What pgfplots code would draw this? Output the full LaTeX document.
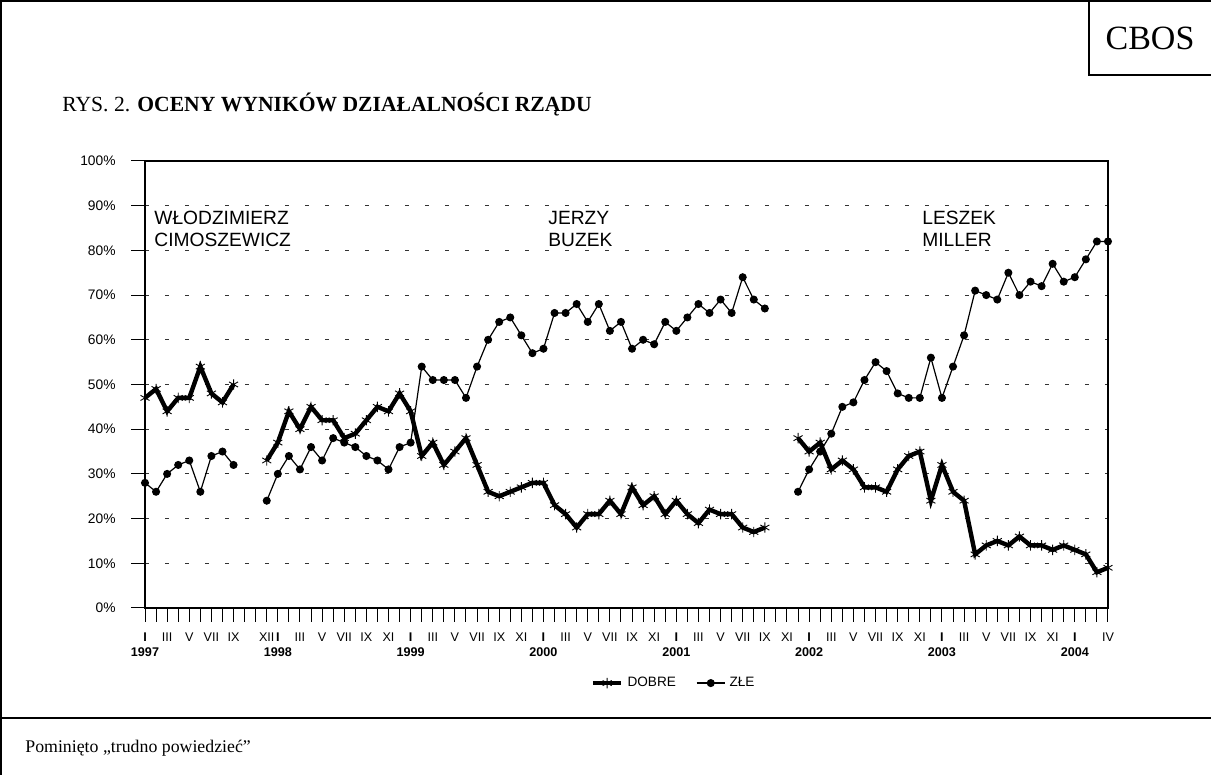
\documentclass[border=0pt]{standalone}
\usepackage{fontspec}
\setmainfont{Liberation Serif}
\setsansfont{Liberation Sans}
\usepackage{pgfplots}
\pgfplotsset{compat=1.18}

\begin{document}
\begin{tikzpicture}
\useasboundingbox (0,0) rectangle (605.5pt,387.5pt);
% page furniture, 1 unit = 1 px of the reference
\begin{scope}[x=0.5pt,y=0.5pt]
  \draw[line width=1pt] (1,0) -- (1,774) -- (1211,774);
  \draw[line width=1pt] (0,57) -- (1211,57);
  \draw[line width=0.7pt] (1089,775) -- (1089,700) -- (1211,700);
  \node[font=\fontsize{17}{20}\selectfont] at (1150,737) {CBOS};
  \node[anchor=base west, inner sep=0pt, font=\fontsize{10.8}{12}\selectfont] at (62,663)
    {RYS. 2. \textbf{OCENY WYNIKÓW DZIAŁALNOŚCI RZĄDU}};
  \node[anchor=base west, inner sep=0pt, font=\fontsize{8.9}{10}\selectfont] at (25,22)
    {Pominięto „trudno powiedzieć”};
  \begin{scope}[every node/.style={anchor=base west, inner sep=0pt,
      font=\sffamily\fontsize{9.6}{11}\selectfont}]
    \node at (154,550) {WŁODZIMIERZ};
    \node at (154,528) {CIMOSZEWICZ};
    \node at (548,550) {JERZY};
    \node at (548,528) {BUZEK};
    \node at (922,550) {LESZEK};
    \node at (922,528) {MILLER};
  \end{scope}
\end{scope}

\begin{axis}[
    at={(72.5pt,83.5pt)}, anchor=south west,
    scale only axis, width=481.5pt, height=223.5pt,
    xmin=0, xmax=87, ymin=0, ymax=100,
    clip=false,
    unbounded coords=jump,
    axis line style={line width=0.6pt},
    tick align=outside, xtick pos=bottom, ytick pos=left,
    major tick length=7pt, minor tick length=7pt,
    tick style={black, line width=0.5pt},
    ymajorgrids,
    grid style={black!80, line width=0.5pt, dash pattern=on 2pt off 8pt},
    ytick={0,10,...,100},
    yticklabels={0\%,10\%,20\%,30\%,40\%,50\%,60\%,70\%,80\%,90\%,100\%},
    yticklabel style={anchor=east, inner sep=0pt, xshift=-7.5pt,
      font=\sffamily\fontsize{6.9}{8}\selectfont},
    xtick={0,2,4,6,8,11,12,14,16,18,20,22,24,26,28,30,32,34,36,38,40,42,44,46,48,50,52,54,56,58,60,62,64,66,68,70,72,74,76,78,80,82,84,87},
    xticklabels={\textbf{I},III,V,VII,IX,XII,
      \textbf{I},III,V,VII,IX,XI,
      \textbf{I},III,V,VII,IX,XI,
      \textbf{I},III,V,VII,IX,XI,
      \textbf{I},III,V,VII,IX,XI,
      \textbf{I},III,V,VII,IX,XI,
      \textbf{I},III,V,VII,IX,XI,
      \textbf{I},IV},
    minor xtick={0,1,...,87},
    xticklabel style={anchor=center, inner sep=0pt, yshift=-7.5pt,
      font=\sffamily\fontsize{6.3}{7}\selectfont},
    extra x ticks={0,12,24,36,48,60,72,84},
    extra x tick labels={1997,1998,1999,2000,2001,2002,2003,2004},
    extra x tick style={major tick length=0pt,
      xticklabel style={yshift=-14.5pt, font=\sffamily\bfseries\fontsize{6.3}{7}\selectfont}},
    legend style={at={(0.55,-0.168)}, anchor=center, draw=none, fill=none,
      legend columns=2, font=\sffamily\fontsize{6.8}{8}\selectfont,
      /tikz/every even column/.append style={column sep=8pt}},
    legend cell align=left,
    legend image code/.code={\draw[mark repeat=2,mark phase=2,#1]
      plot coordinates {(0cm,0cm) (0.25cm,0cm) (0.5cm,0cm)};},
]
\addplot[black, line width=2.2pt, mark=asterisk, mark size=2.6pt,
  mark options={line width=0.45pt}] coordinates {
  (0,47) (1,49) (2,44) (3,47) (4,47) (5,54) (6,48) (7,46) (8,50) (9,nan)
  (11,33) (12,37) (13,44) (14,40) (15,45) (16,42) (17,42) (18,38) (19,39) (20,42)
  (21,45) (22,44) (23,48) (24,44) (25,34) (26,37) (27,32) (28,35) (29,38) (30,32)
  (31,26) (32,25) (33,26) (34,27) (35,28) (36,28) (37,23) (38,21) (39,18) (40,21)
  (41,21) (42,24) (43,21) (44,27) (45,23) (46,25) (47,21) (48,24) (49,21) (50,19)
  (51,22) (52,21) (53,21) (54,18) (55,17) (56,18) (57,nan)
  (59,38) (60,35) (61,37) (62,31) (63,33) (64,31) (65,27) (66,27) (67,26) (68,31)
  (69,34) (70,35) (71,24) (72,32) (73,26) (74,24) (75,12) (76,14) (77,15) (78,14)
  (79,16) (80,14) (81,14) (82,13) (83,14) (84,13) (85,12) (86,8) (87,9)
};
\addlegendentry{DOBRE}
\addplot[black, line width=0.6pt, mark=*, mark size=1.7pt] coordinates {
  (0,28) (1,26) (2,30) (3,32) (4,33) (5,26) (6,34) (7,35) (8,32) (9,nan)
  (11,24) (12,30) (13,34) (14,31) (15,36) (16,33) (17,38) (18,37) (19,36) (20,34)
  (21,33) (22,31) (23,36) (24,37) (25,54) (26,51) (27,51) (28,51) (29,47) (30,54)
  (31,60) (32,64) (33,65) (34,61) (35,57) (36,58) (37,66) (38,66) (39,68) (40,64)
  (41,68) (42,62) (43,64) (44,58) (45,60) (46,59) (47,64) (48,62) (49,65) (50,68)
  (51,66) (52,69) (53,66) (54,74) (55,69) (56,67) (57,nan)
  (59,26) (60,31) (61,35) (62,39) (63,45) (64,46) (65,51) (66,55) (67,53) (68,48)
  (69,47) (70,47) (71,56) (72,47) (73,54) (74,61) (75,71) (76,70) (77,69) (78,75)
  (79,70) (80,73) (81,72) (82,77) (83,73) (84,74) (85,78) (86,82) (87,82)
};
\addlegendentry{ZŁE}
\end{axis}
\end{tikzpicture}
\end{document}
